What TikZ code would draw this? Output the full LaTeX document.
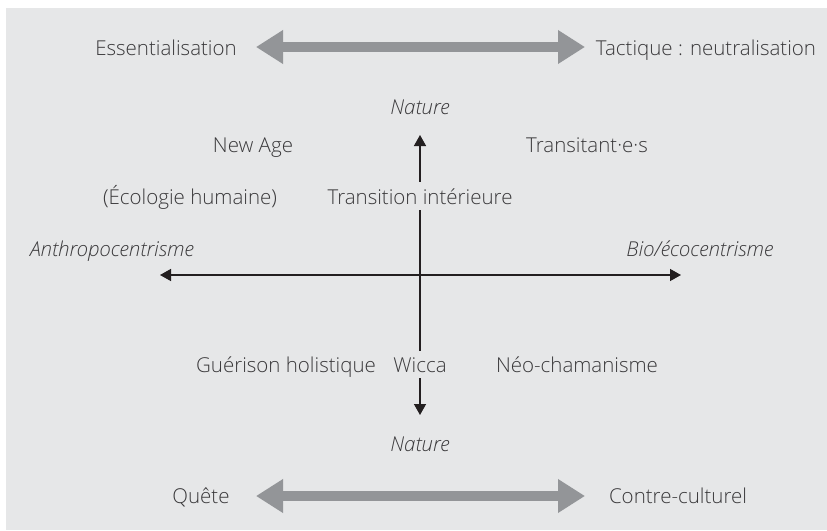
\documentclass[tikz,border=0pt]{standalone}
\usepackage{fontspec}
\setmainfont{Open Sans}[UprightFont=* Light, ItalicFont=* Light Italic]
\usetikzlibrary{arrows.meta}

\definecolor{panel}{HTML}{E6E7E8}
\definecolor{bandgray}{HTML}{939598}
\definecolor{ink}{HTML}{3A393B}
\definecolor{axis}{HTML}{231F20}

\tikzset{
  lbl/.style={text=ink, font=\fontsize{20.5}{24}\selectfont, anchor=base, inner sep=0pt},
  ilbl/.style={lbl, font=\fontsize{20.5}{24}\selectfont\itshape},
  masked/.style={lbl, fill=panel, inner xsep=3pt, inner ysep=6pt},
  bigarrow/.style={draw=bandgray, line width=10pt,
    {Triangle[length=27pt,width=32pt]}-{Triangle[length=27pt,width=32pt]}},
  axisarrow/.style={draw=axis, line width=1.4pt,
    {Triangle[length=11pt,width=12pt]}-{Triangle[length=11pt,width=12pt]}}
}

\begin{document}
\begin{tikzpicture}[x=1pt, y=-1pt]
  \useasboundingbox (0,0) rectangle (827,530);
  \fill[panel] (6,8) rectangle (827,530);

  % top band
  \node[lbl] (ess) at (166,55) {Essentialisation};
  \node[lbl] (tac) at (706,55) {Tactique : neutralisation};
  \coordinate (tl) at (256,47);
  \coordinate (tr) at (585,47);
  \draw[bigarrow] (tl) -- (tr);

  % axes
  \coordinate (vt) at (420,135);
  \coordinate (vb) at (420,415);
  \coordinate (hl) at (160,275);
  \coordinate (hr) at (681,275);
  \draw[axisarrow] (vt) -- (vb);
  \draw[axisarrow] (hl) -- (hr);

  \node[ilbl] (natt) at (420,114) {Nature};
  \node[ilbl] (natb) at (420,451) {Nature};
  \node[ilbl] (anth) at (112,256) {Anthropocentrisme};
  \node[ilbl] (bio)  at (700,256) {Bio/écocentrisme};

  % quadrant labels
  \node[lbl] (newage) at (253,152) {New Age};
  \node[lbl] (trans)  at (587,152) {Transitant·e·s};
  \node[lbl] (eco)    at (190,204) {(Écologie humaine)};
  \node[masked] (ti)  at (420,204) {Transition intérieure};
  \node[lbl] (gue)    at (286,372) {Guérison holistique};
  \node[masked] (wic) at (420,372) {Wicca};
  \node[lbl] (neo)    at (577,372) {Néo-chamanisme};

  % bottom band
  \node[lbl] (que) at (201,503) {Quête};
  \node[lbl] (con) at (678,503) {Contre-culturel};
  \coordinate (bl) at (256,496);
  \coordinate (br) at (585,496);
  \draw[bigarrow] (bl) -- (br);
\end{tikzpicture}
\end{document}
